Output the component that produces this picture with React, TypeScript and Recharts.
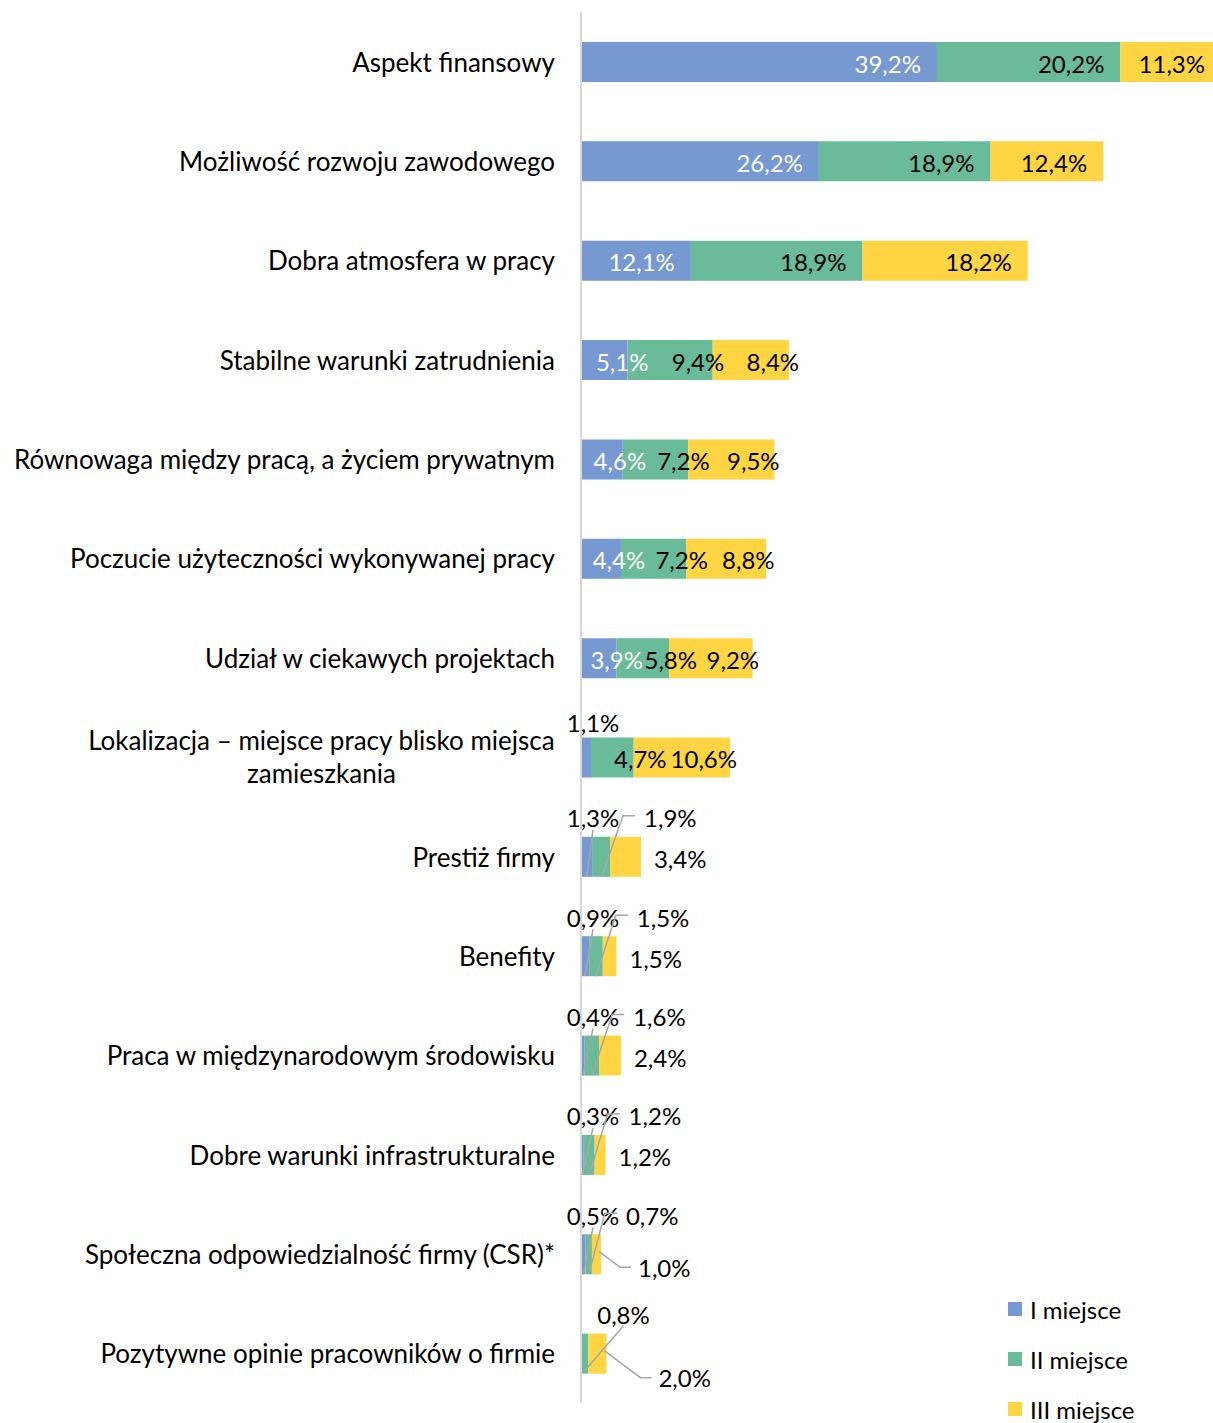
import { BarChart, Bar, XAxis, YAxis, LabelList, Legend } from 'recharts'

const categories = [
  'Aspekt finansowy',
  'Możliwość rozwoju zawodowego',
  'Dobra atmosfera w pracy',
  'Stabilne warunki zatrudnienia',
  'Równowaga między pracą, a życiem prywatnym',
  'Poczucie użyteczności wykonywanej pracy',
  'Udział w ciekawych projektach',
  'Lokalizacja – miejsce pracy blisko miejsca zamieszkania',
  'Prestiż firmy',
  'Benefity',
  'Praca w międzynarodowym środowisku',
  'Dobre warunki infrastrukturalne',
  'Społeczna odpowiedzialność firmy (CSR)*',
  'Pozytywne opinie pracowników o firmie',
]
const firstPlace = [39.2, 26.2, 12.1, 5.1, 4.6, 4.4, 3.9, 1.1, 1.3, 0.9, 0.4, 0.3, 0.5, 0]
const secondPlace = [20.2, 18.9, 18.9, 9.4, 7.2, 7.2, 5.8, 4.7, 1.9, 1.5, 1.6, 1.2, 0.7, 0.8]
const thirdPlace = [11.3, 12.4, 18.2, 8.4, 9.5, 8.8, 9.2, 10.6, 3.4, 1.5, 2.4, 1.2, 1.0, 2.0]
const seriesNames = ['I miejsce', 'II miejsce', 'III miejsce']

const colors = ['#7799d1', '#69bb99', '#ffd543']
const FONT = 'Lato, "Open Sans", sans-serif'
const TICK_SIZE = 26
const LABEL_SIZE = 24
const LEGEND_SIZE = 24
const LEADER = '#a6a6a6'
const CHART_W = 1213
// wrapped category labels (as in the original)
const tickLines: Record<string, string[]> = {
  'Lokalizacja – miejsce pracy blisko miejsca zamieszkania': ['Lokalizacja – miejsce pracy blisko miejsca', 'zamieszkania'],
}
// rows whose third label sits below-right of the bar (offset from bar end / centre)
const thirdBelow: Record<string, { dx: number; dy: number }> = {
  'Społeczna odpowiedzialność firmy (CSR)*': { dx: 37, dy: 13 },
  'Pozytywne opinie pracowników o firmie': { dx: 52, dy: 24 },
}
// shift of inline labels past the segment centre, per series
const inlineShift = [18, 28, 22]

const data = categories.map((name, i) => ({
  name,
  first: firstPlace[i],
  second: secondPlace[i],
  third: thirdPlace[i],
}))

const fmt = (v: number) => v.toFixed(1).replace('.', ',') + '%'

let ctx: CanvasRenderingContext2D | null = null
function textWidth(s: string, size: number) {
  if (!ctx) ctx = document.createElement('canvas').getContext('2d')
  if (!ctx) return s.length * size * 0.5
  ctx.font = `${size}px ${FONT}`
  return ctx.measureText(s).width
}

function CategoryTick(props: any) {
  const { x, y, payload } = props
  const lines = tickLines[payload.value]
  if (!lines) {
    return (
      <text x={x} y={y} textAnchor="end" dominantBaseline="central" fontSize={TICK_SIZE} fontFamily={FONT} fill="#000">
        {payload.value}
      </text>
    )
  }
  const w = Math.max(...lines.map(l => textWidth(l, TICK_SIZE)))
  return (
    <text x={x - w / 2} y={y} textAnchor="middle" fontSize={TICK_SIZE} fontFamily={FONT} fill="#000">
      {lines.map((l, k) => (
        <tspan key={k} x={x - w / 2} y={y - 17 + k * 33} dominantBaseline="central">{l}</tspan>
      ))}
    </text>
  )
}

function makeLabel(series: number) {
  return (props: any) => {
    const { x, y, width, height, value, index } = props
    if (!value) return null
    const total = firstPlace[index] + secondPlace[index] + thirdPlace[index]
    const cy = y + height / 2
    const text = fmt(value)
    const common = { fontSize: LABEL_SIZE, fontFamily: FONT, dominantBaseline: 'central' as const }

    if (total >= 8) {
      if (width < 25) {
        return <text x={x + 12} y={cy - 35} textAnchor="middle" fill="#000" {...common}>{text}</text>
      }
      const fill = series === 0 ? '#fff' : '#000'
      // bar running past the plot edge: keep label inside
      if (x + width >= CHART_W - 1) {
        return <text x={CHART_W - 8} y={cy + 1} textAnchor="end" fill={fill} {...common}>{text}</text>
      }
      if (width > 100) {
        return <text x={x + width - 16} y={cy + 1} textAnchor="end" fill={fill} {...common}>{text}</text>
      }
      return <text x={x + width / 2 + inlineShift[series]} y={cy + 1} textAnchor="middle" fill={fill} {...common}>{text}</text>
    }

    // small rows: labels outside with leader lines
    if (series === 0) {
      const lx = x + 12
      const ly = cy - 39
      return (
        <g>
          <line x1={lx} y1={ly + 12} x2={x + width / 2} y2={y + height} stroke={LEADER} strokeWidth={1.5} />
          <text x={lx} y={ly} textAnchor="middle" fill="#000" {...common}>{text}</text>
        </g>
      )
    }
    if (series === 1) {
      const ly = cy - 39
      if (!firstPlace[index]) {
        const lx = x + width + 9
        const w = textWidth(text, LABEL_SIZE)
        return (
          <g>
            <line x1={lx + w / 2} y1={ly + 11} x2={x + width / 2} y2={y + height - 3} stroke={LEADER} strokeWidth={1.5} />
            <text x={lx} y={ly} textAnchor="start" fill="#000" {...common}>{text}</text>
          </g>
        )
      }
      const lx = x + width + 34
      return (
        <g>
          <polyline
            points={`${lx - 9},${ly - 2} ${lx - 21},${ly - 2} ${x + width / 2},${y + height}`}
            fill="none"
            stroke={LEADER}
            strokeWidth={1.5}
          />
          <text x={lx} y={ly} textAnchor="start" fill="#000" {...common}>{text}</text>
        </g>
      )
    }
    const below = thirdBelow[categories[index]]
    if (below) {
      const lx = x + width + below.dx
      const ly = cy + below.dy
      return (
        <g>
          <polyline
            points={`${x + width - 2},${cy - 3} ${lx - 18},${ly} ${lx - 7},${ly}`}
            fill="none"
            stroke={LEADER}
            strokeWidth={1.5}
          />
          <text x={lx} y={ly} textAnchor="start" fill="#000" {...common}>{text}</text>
        </g>
      )
    }
    return <text x={x + width + 13} y={cy + 2} textAnchor="start" fill="#000" {...common}>{text}</text>
  }
}

function LegendBox() {
  return (
    <div style={{ fontFamily: FONT, fontSize: LEGEND_SIZE, color: '#000' }}>
      {seriesNames.map((s, i) => (
        <div key={s} style={{ display: 'flex', alignItems: 'center', height: 50 }}>
          <span style={{ width: 14, height: 14, background: colors[i], marginRight: 8 }} />
          {s}
        </div>
      ))}
    </div>
  )
}

export default function App() {
  const keys = ['first', 'second', 'third']
  return (
    <div style={{ position: 'absolute', left: 0, top: 0, width: CHART_W, height: 1423, background: '#fff', overflow: 'hidden' }}>
      <BarChart
        width={CHART_W}
        height={1423}
        data={data}
        layout="vertical"
        margin={{ top: 12, right: 0, bottom: 20, left: 0 }}
        barSize={40}
      >
        <XAxis type="number" hide domain={[0, 69.6]} allowDataOverflow />
        <YAxis
          type="category"
          dataKey="name"
          width={581}
          axisLine={{ stroke: '#d9d9d9', strokeWidth: 2 }}
          tickLine={false}
          tickSize={0}
          tickMargin={26}
          tick={<CategoryTick />}
          interval={0}
        />
        <Legend
          layout="vertical"
          align="center"
          verticalAlign="middle"
          wrapperStyle={{ left: 1008, top: 1284, width: 200 }}
          content={<LegendBox />}
        />
        {keys.map((k, i) => (
          <Bar key={k} dataKey={k} name={seriesNames[i]} stackId="a" fill={colors[i]} isAnimationActive={false}>
            <LabelList dataKey={k} content={makeLabel(i)} />
          </Bar>
        ))}
      </BarChart>
    </div>
  )
}
